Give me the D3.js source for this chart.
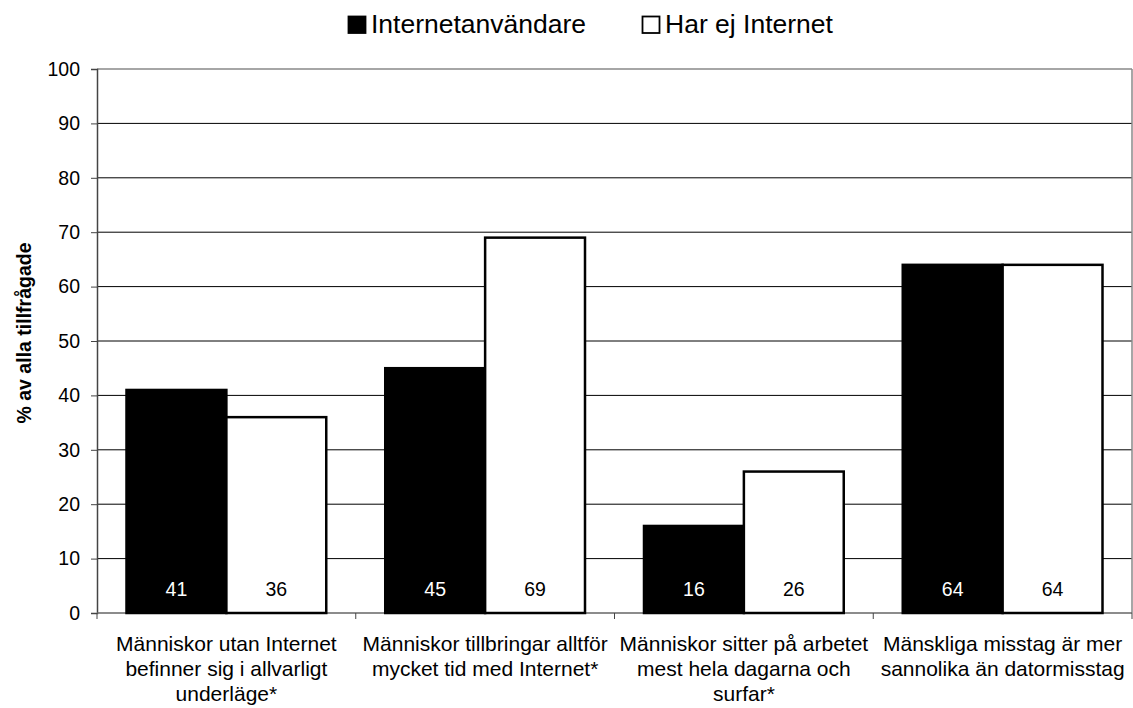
<!DOCTYPE html>
<html><head><meta charset="utf-8">
<script src="https://cdn.jsdelivr.net/npm/d3@7"></script>
<style>body{margin:0;background:#fff;} text{font-family:"Liberation Sans",Arial,sans-serif;}</style>
</head><body>
<svg id="c" width="1133" height="708"></svg>
<script>
const categories = [
  ["Människor utan Internet","befinner sig i allvarligt","underläge*"],
  ["Människor tillbringar alltför","mycket tid med Internet*"],
  ["Människor sitter på arbetet","mest hela dagarna och","surfar*"],
  ["Mänskliga misstag är mer","sannolika än datormisstag"]
];
const seriesNames = ["Internetanvändare","Har ej Internet"];
const internetUsers = [41,45,16,64];
const noInternet = [36,69,26,64];
const yTicks = [0,10,20,30,40,50,60,70,80,90,100];

const svg = d3.select("#c");
const m = {l:97, r:1132, t:69, b:613};
const x = d3.scaleBand().domain(d3.range(categories.length)).range([m.l,m.r]).paddingInner(0).paddingOuter(0);
const y = d3.scaleLinear().domain([0,100]).range([m.b,m.t]);
const bw = x.bandwidth();
const barW = bw*0.386;
const inner = d3.scaleBand().domain([0,1]).range([(bw-2*barW)/2,(bw+2*barW)/2]);

// gridlines
svg.append("g").selectAll("line").data(yTicks.filter(d=>d>0 && d<100)).join("line")
  .attr("x1",m.l).attr("x2",m.r).attr("y1",d=>y(d)).attr("y2",d=>y(d))
  .attr("stroke","#000").attr("stroke-width",1);
// plot border top/right
svg.append("line").attr("x1",m.l).attr("x2",m.r).attr("y1",y(100)).attr("y2",y(100)).attr("stroke","#888").attr("stroke-width",1.5);
svg.append("line").attr("x1",m.r).attr("x2",m.r).attr("y1",m.t).attr("y2",m.b).attr("stroke","#888").attr("stroke-width",1.5);

// y axis
const ya = svg.append("g").attr("transform",`translate(${m.l},0)`)
  .call(d3.axisLeft(y).tickValues(yTicks).tickSize(6).tickPadding(11));
ya.select(".domain").attr("stroke","#444").attr("stroke-width",1.5);
ya.selectAll(".tick line").attr("stroke","#444");
ya.selectAll("text").attr("font-size","19.5px").attr("fill","#000");

// x axis line + ticks at boundaries
const bounds = d3.range(categories.length+1).map(i=> i<categories.length ? x(i) : m.r);
svg.append("line").attr("x1",m.l).attr("x2",m.r).attr("y1",m.b).attr("y2",m.b).attr("stroke","#666").attr("stroke-width",1.5);
svg.append("g").selectAll("line").data(bounds).join("line")
  .attr("x1",d=>d).attr("x2",d=>d).attr("y1",m.b).attr("y2",m.b+6).attr("stroke","#444");

// bars
const data = categories.map((c,i)=>[internetUsers[i],noInternet[i]]);
const g = svg.append("g").selectAll("g").data(data).join("g").attr("transform",(d,i)=>`translate(${x(i)},0)`);
g.selectAll("rect").data(d=>d).join("rect")
  .attr("x",(d,j)=>inner(j)).attr("width",inner.bandwidth())
  .attr("y",d=>y(d)).attr("height",d=>y(0)-y(d))
  .attr("fill",(d,j)=>j===0?"#000":"#fff").attr("stroke","#000").attr("stroke-width",2.5);
g.selectAll("text").data(d=>d).join("text")
  .attr("x",(d,j)=>inner(j)+inner.bandwidth()/2).attr("y",y(0)-17)
  .attr("text-anchor","middle").attr("font-size","19.5px")
  .attr("fill",(d,j)=>j===0?"#fff":"#000").text(d=>d);

// category labels
svg.append("g").selectAll("text").data(categories).join("text")
  .attr("text-anchor","middle").attr("font-size","21px").attr("fill","#000")
  .attr("transform",(d,i)=>`translate(${x(i)+bw/2},651)`)
  .selectAll("tspan").data(d=>d).join("tspan").attr("x",0).attr("dy",(d,k)=>k===0?0:25).text(d=>d);

// y title
svg.append("text").attr("transform","translate(31,333) rotate(-90)").attr("text-anchor","middle")
  .attr("font-size","19.5px").attr("font-weight","bold").text("% av alla tillfrågade");

// legend
const lx = [348,642];
const lg = svg.append("g").selectAll("g").data(seriesNames).join("g").attr("transform",(d,i)=>`translate(${lx[i]},16)`);
lg.append("rect").attr("x",0.5).attr("y",0.5).attr("width",17).attr("height",16.5)
  .attr("fill",(d,i)=>i===0?"#000":"#fff").attr("stroke","#000").attr("stroke-width",1.8);
lg.append("text").attr("x",23).attr("y",17).attr("font-size","26.5px").text(d=>d);
</script>
</body></html>
